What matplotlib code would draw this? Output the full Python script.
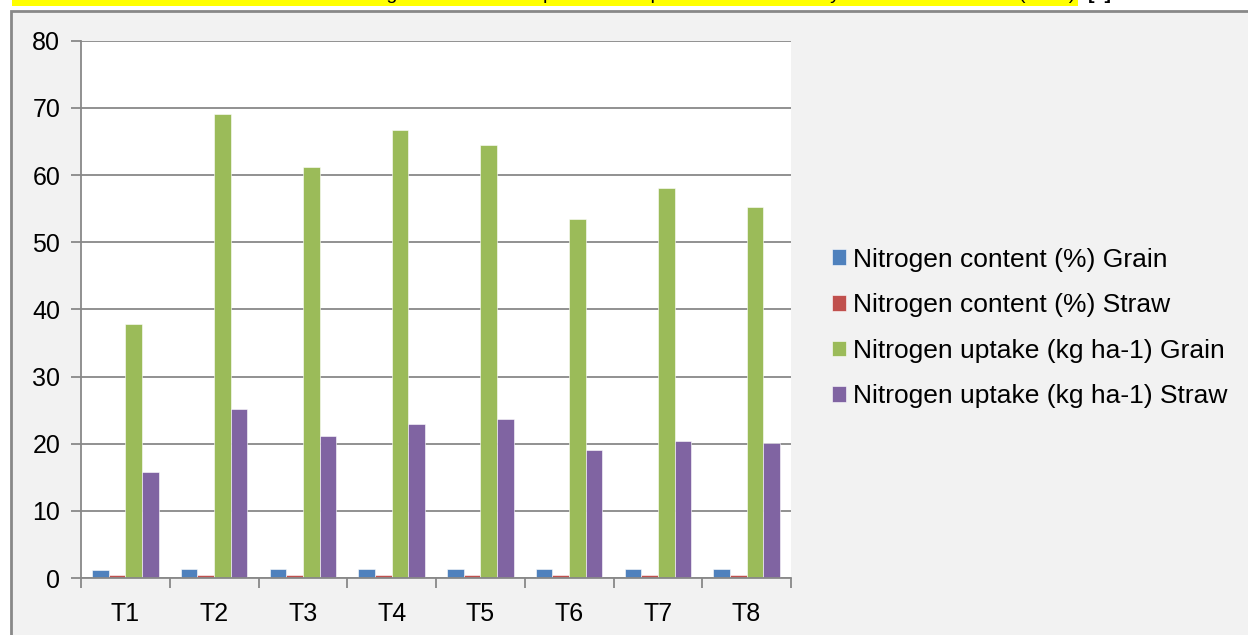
import matplotlib
matplotlib.use("Agg")
import matplotlib.pyplot as plt
from matplotlib.patches import Rectangle
import numpy as np

plt.rcParams['font.family'] = ['Liberation Sans', 'DejaVu Sans']

categories = ["T1", "T2", "T3", "T4", "T5", "T6", "T7", "T8"]
n_content_grain = [1.25, 1.35, 1.3, 1.35, 1.35, 1.3, 1.3, 1.3]
n_content_straw = [0.4, 0.42, 0.4, 0.42, 0.42, 0.4, 0.4, 0.4]
n_uptake_grain = [37.8, 69.1, 61.2, 66.7, 64.5, 53.5, 58.1, 55.3]
n_uptake_straw = [15.8, 25.1, 21.1, 23.0, 23.6, 19.0, 20.4, 20.1]
series_labels = ["Nitrogen content (%) Grain", "Nitrogen content (%) Straw",
                 "Nitrogen uptake (kg ha-1) Grain", "Nitrogen uptake (kg ha-1) Straw"]
colors = ["#4F81BD", "#C0504D", "#9BBB59", "#8064A2"]
yticks = [0, 10, 20, 30, 40, 50, 60, 70, 80]

W, H = 1248, 635
fig = plt.figure(figsize=(W / 100, H / 100), dpi=100)
fig.patch.set_facecolor("white")

# outer chart area
fig.patches.append(Rectangle((11 / W, -0.05), 1.1, (H - 11) / H + 0.05,
                             transform=fig.transFigure, facecolor="#F2F2F2",
                             edgecolor="#898989", linewidth=2, zorder=-2))
# highlighted caption fragment (cut off at top, as in the source)
fig.patches.append(Rectangle((12 / W, 1 - 6 / H), (1078 - 12) / W, 6 / H,
                             transform=fig.transFigure, facecolor="#FFFF00",
                             edgecolor="none", zorder=-1))
fig.text(1075 / W, 1 + 1 / H, "Nitrogen content and uptake of the plant as influenced by different treatments (2019)",
         ha="right", va="baseline", fontsize=14, color="black", zorder=2)
fig.text(1088 / W, 1 + 1 / H, "[..]", ha="left", va="baseline", fontsize=14,
         fontweight="bold", color="black", zorder=2)

ax = fig.add_axes([81 / W, 1 - 578 / H, (791 - 81) / W, (578 - 40.7) / H])
ax.set_zorder(5)
ax.set_facecolor("white")

x = np.arange(len(categories))
bw = 1 / (4 + 1.33)
all_series = [n_content_grain, n_content_straw, n_uptake_grain, n_uptake_straw]
for i, (vals, c, lab) in enumerate(zip(all_series, colors, series_labels)):
    ax.bar(x + (i - 1.5) * bw, vals, width=bw, color=c, label=lab, zorder=3,
           edgecolor="white", linewidth=0.4)

ax.set_xlim(-0.5, len(categories) - 0.5)
ax.set_ylim(0, 80)
ax.set_yticks(yticks)
ax.set_yticklabels([str(v) for v in yticks], fontsize=18)
ax.grid(axis="y", color="#888888", linewidth=1.3, zorder=1)
ax.set_axisbelow(True)

ax.set_xticks(x)
ax.set_xticklabels(categories, fontsize=18)
ax.tick_params(axis="x", which="major", length=0, pad=17)
ax.set_xticks(np.arange(len(categories) + 1) - 0.5, minor=True)
ax.tick_params(axis="x", which="minor", length=7, width=1.3, color="#888888", direction="out")
ax.tick_params(axis="y", length=7, width=1.3, color="#888888", pad=8)

for s in ["top", "right"]:
    ax.spines[s].set_visible(False)
for s in ["left", "bottom"]:
    ax.spines[s].set_color("#888888")
    ax.spines[s].set_linewidth(1.3)
    ax.spines[s].set_zorder(4)

leg = fig.legend(loc="center left", bbox_to_anchor=(808 / W, 1 - 328 / H),
                 frameon=False, fontsize=19, handlelength=0.55, handleheight=0.55,
                 handletextpad=0.25, labelspacing=0.82)

fig.savefig("out.png", dpi=100, facecolor=fig.get_facecolor())
